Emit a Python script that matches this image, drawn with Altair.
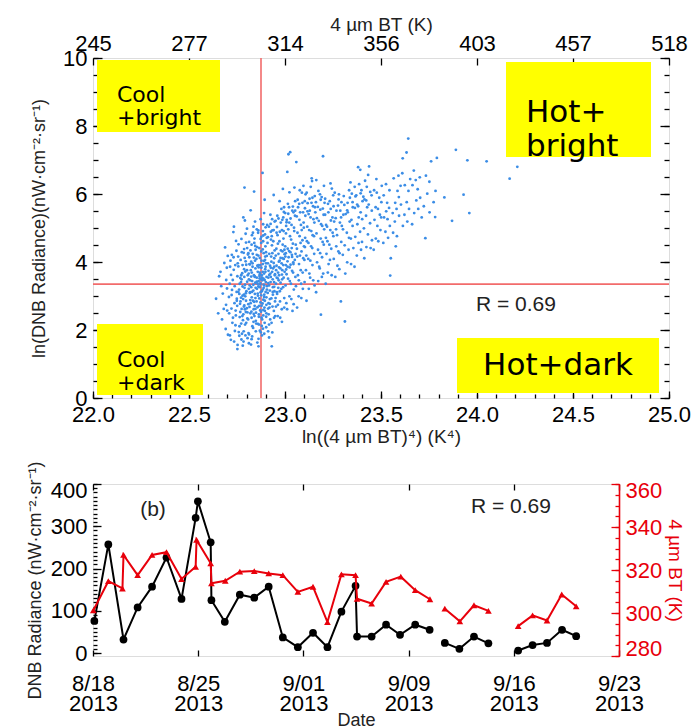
import altair as alt
import pandas as pd

# ---------------- panel (a): DNB radiance vs 4 um brightness temperature ----------------
# (ln(BT^4), ln(DNB radiance)) pairs
scatter_pts = [
    (22.641,2.92),(22.657,3.58),(22.672,2.31),(22.684,3.97),(22.693,2.74),(22.698,3.22),(22.703,1.86),(22.688,4.43),
    (22.676,3.07),(22.699,2.57),(22.664,3.71),(22.691,2.03),(22.702,4.18),(22.668,3.29),(22.697,3.83),(22.681,2.62),
    (22.694,3.47),(22.652,2.49),
    (22.713,1.84),(22.726,2.21),(22.708,2.97),(22.731,4.88),(22.719,3.62),(22.744,2.43),(22.735,1.66),(22.712,3.36),
    (22.741,3.91),(22.723,4.21),(22.737,2.79),(22.748,3.12),(22.716,4.04),(22.739,1.97),(22.728,3.47),(22.721,2.63),
    (22.747,4.33),(22.742,2.14),(22.709,2.49),(22.733,3.77),(22.751,2.71),(22.724,3.18),(22.745,4.62),(22.729,2.36),
    (22.752,3.58),(22.718,1.71),(22.738,3.29),(22.714,3.86),(22.749,2.92),(22.732,4.14),(22.753,1.56),(22.743,2.57),
    (22.722,3.03),(22.734,5.04),(22.754,3.96),
    (22.752,1.44),(22.763,2.11),(22.771,3.41),(22.784,1.66),(22.791,5.22),(22.789,6.19),(22.758,4.52),(22.774,2.62),
    (22.786,3.04),(22.793,3.72),(22.761,3.19),(22.769,4.06),(22.781,2.29),(22.797,2.86),(22.803,4.41),(22.766,2.77),
    (22.776,1.89),(22.788,3.56),(22.795,4.83),(22.799,3.14),(22.757,3.87),(22.773,4.68),(22.783,2.46),(22.792,3.33),
    (22.801,2.64),(22.764,2.38),(22.779,3.01),(22.785,4.27),(22.794,1.84),(22.798,3.92),(22.767,3.53),(22.772,2.19),
    (22.787,3.79),(22.796,2.53),(22.802,4.98),(22.759,1.94),(22.777,3.67),(22.782,2.91),(22.790,4.12),(22.804,2.34),
    (22.762,3.06),(22.775,4.29),(22.789,3.24),(22.793,2.99),(22.806,3.61),(22.768,2.84),(22.780,1.54),(22.797,4.57),
    (22.805,1.76),(22.756,4.16),(22.783,5.31),(22.792,2.16),(22.807,4.22),(22.774,3.49),(22.786,2.69),
    (22.812,1.61),(22.823,1.57),(22.834,2.06),(22.841,2.41),(22.809,2.76),(22.818,3.11),(22.829,3.44),(22.846,3.81),
    (22.814,4.14),(22.826,4.51),(22.833,4.86),(22.844,5.19),(22.821,5.52),(22.839,6.07),(22.816,3.31),(22.825,2.54),
    (22.831,3.96),(22.843,3.06),(22.852,2.84),(22.811,3.66),(22.824,4.01),(22.836,2.24),(22.847,4.36),(22.853,3.54),
    (22.808,2.31),(22.819,3.46),(22.835,3.16),(22.842,2.71),(22.851,4.09),(22.813,4.59),(22.827,2.96),(22.832,4.24),
    (22.845,3.39),(22.854,3.21),(22.810,1.91),(22.822,3.76),(22.837,2.61),(22.841,4.69),(22.849,2.51),(22.815,3.94),
    (22.828,4.79),(22.838,3.61),(22.848,1.96),(22.856,3.89),(22.817,3.09),(22.830,2.11),(22.840,4.56),(22.843,3.56),
    (22.855,4.44),(22.819,2.49),(22.824,3.26),(22.833,2.86),(22.846,2.94),(22.857,3.36),(22.827,3.69),(22.844,4.04),
    (22.850,2.19),(22.820,4.34),(22.836,5.04),(22.853,4.96),(22.812,3.49),(22.847,3.24),(22.858,3.71),(22.829,1.81),
    (22.821,2.79),
    (22.862,1.52),(22.874,1.93),(22.881,2.31),(22.893,2.66),(22.859,3.01),(22.871,3.34),(22.884,3.71),(22.896,4.06),
    (22.866,4.41),(22.877,4.74),(22.886,5.11),(22.891,5.44),(22.894,5.83),(22.883,6.62),(22.864,2.46),(22.872,2.81),
    (22.879,3.14),(22.888,3.51),(22.899,3.86),(22.861,4.19),(22.876,4.56),(22.885,4.91),(22.903,2.96),(22.867,3.59),
    (22.873,3.11),(22.887,2.59),(22.892,3.31),(22.901,4.29),(22.863,3.84),(22.878,4.04),(22.882,3.46),(22.895,2.86),
    (22.904,3.56),(22.865,2.16),(22.869,3.64),(22.889,4.26),(22.897,3.79),(22.902,2.39),(22.868,3.26),(22.875,2.54),
    (22.884,3.94),(22.898,4.46),(22.906,3.19),(22.860,4.86),(22.871,3.91),(22.887,2.89),(22.892,3.04),(22.905,4.71),
    (22.866,2.71),(22.876,4.31),(22.881,3.54),(22.894,2.21),(22.900,3.41),(22.863,3.44),(22.878,2.36),(22.886,4.61),
    (22.897,4.16),(22.907,5.09),(22.873,5.26),(22.880,1.84),(22.891,3.66),(22.903,2.74),(22.869,3.69),(22.874,3.49),
    (22.889,3.24),(22.896,4.81),(22.901,3.96),(22.862,1.74),(22.885,2.04),
    (22.912,1.96),(22.923,2.31),(22.931,1.52),(22.934,1.93),(22.942,2.56),(22.914,2.79),(22.921,3.16),(22.936,3.49),
    (22.944,3.86),(22.952,4.19),(22.909,4.56),(22.926,4.89),(22.933,5.26),(22.941,5.97),(22.917,3.31),(22.924,3.66),
    (22.929,4.01),(22.946,4.34),(22.951,2.94),(22.911,3.96),(22.919,2.66),(22.937,3.04),(22.943,3.41),(22.954,3.76),
    (22.915,2.46),(22.928,4.16),(22.932,4.49),(22.948,2.84),(22.956,4.86),(22.913,3.54),(22.922,3.89),(22.935,2.69),
    (22.939,4.61),(22.953,3.36),(22.918,4.24),(22.925,3.41),(22.938,3.81),(22.945,3.14),(22.949,2.41),(22.910,3.09),
    (22.927,4.66),(22.930,2.21),(22.947,3.61),(22.955,4.39),(22.916,5.04),(22.921,2.91),(22.934,4.26),(22.941,4.94),
    (22.957,3.54),(22.924,5.39),(22.937,3.26),(22.943,2.36),(22.951,5.21),(22.914,3.74),(22.931,4.76),(22.958,3.11),
    (22.926,3.56),(22.944,4.11),(22.917,2.16),(22.953,2.69),
    (22.962,2.41),(22.974,2.84),(22.981,3.21),(22.993,3.54),(23.004,3.91),(22.966,4.24),(22.971,4.61),(22.984,4.94),
    (22.991,5.31),(22.989,6.15),(22.959,3.06),(22.977,3.39),(22.986,3.76),(22.994,4.09),(23.001,4.46),(22.964,3.69),
    (22.972,4.04),(22.983,2.61),(22.996,2.94),(23.003,3.31),(22.961,4.79),(22.978,5.16),(22.987,4.31),(22.992,4.69),
    (23.006,5.06),(22.967,3.46),(22.973,3.14),(22.982,3.96),(22.998,3.71),(23.002,4.16),(22.963,2.74),(22.976,3.81),
    (22.988,4.51),(22.995,5.61),(23.007,2.79),(22.968,4.01),(22.975,2.36),(22.985,3.49),(22.997,4.36),(23.005,4.84),
    (22.960,5.36),(22.979,4.34),(22.981,5.56),(22.990,3.26),(23.008,3.64),(22.969,3.61),(22.984,2.24),(22.993,4.91),
    (23.001,5.44),(22.965,3.24),(22.987,4.11),(23.004,4.26),(22.972,5.79),(22.996,2.66),(22.963,4.54),
    (23.012,6.65),(23.018,7.17),(23.027,7.23),(23.011,2.61),(23.023,2.99),(23.031,3.36),(23.042,3.69),(23.051,4.06),
    (23.014,4.39),(23.026,4.76),(23.034,5.09),(23.044,5.46),(23.053,5.79),(23.016,3.51),(23.024,3.84),(23.036,4.21),
    (23.041,4.54),(23.048,4.91),(23.009,5.24),(23.021,5.61),(23.033,2.91),(23.046,3.19),(23.054,3.56),(23.017,4.96),
    (23.028,4.29),(23.032,4.66),(23.043,3.99),(23.056,4.51),(23.013,3.86),(23.022,5.16),(23.037,3.74),(23.047,5.01),
    (23.052,5.36),(23.019,4.14),(23.025,3.44),(23.038,5.51),(23.045,2.76),(23.057,3.29),(23.023,6.05),(23.035,4.41),
    (23.049,6.19),(23.055,4.24),(23.015,5.71),(23.039,2.56),(23.044,3.94),
    (23.059,6.94),(23.063,2.66),(23.071,2.99),(23.084,3.36),(23.092,3.69),(23.101,4.06),(23.062,4.39),(23.076,4.76),
    (23.083,5.09),(23.094,5.46),(23.103,5.79),(23.067,3.61),(23.073,3.94),(23.086,4.31),(23.091,4.64),(23.098,5.01),
    (23.061,5.34),(23.074,5.71),(23.088,6.04),(23.095,4.11),(23.104,4.44),(23.065,4.86),(23.078,4.19),(23.082,3.76),
    (23.097,5.16),(23.102,3.41),(23.068,5.61),(23.072,3.46),(23.087,4.94),(23.093,3.21),(23.106,5.36),(23.077,6.11),
    (23.081,4.56),(23.096,6.24),(23.105,4.71),(23.064,4.16),(23.085,2.94),(23.099,4.46),(23.107,5.99),(23.075,5.24),
    (23.112,2.86),(23.124,3.21),(23.131,3.54),(23.143,3.91),(23.152,4.24),(23.114,4.61),(23.126,4.94),(23.133,5.31),
    (23.146,5.64),(23.141,6.38),(23.139,6.46),(23.109,3.76),(23.121,4.09),(23.136,4.46),(23.144,4.79),(23.153,5.16),
    (23.117,5.49),(23.128,5.86),(23.134,6.21),(23.111,4.19),(23.122,4.56),(23.137,4.91),(23.148,5.26),(23.156,5.61),
    (23.116,5.04),(23.127,3.66),(23.132,4.04),(23.142,4.41),(23.154,3.31),(23.123,5.41),(23.138,5.74),(23.151,4.76),
    (23.113,6.04),(23.147,3.46),(23.155,5.94),
    (23.187,2.45),(23.198,7.11),(23.162,3.11),(23.173,3.44),(23.181,3.81),(23.193,4.14),(23.202,4.51),(23.164,4.84),
    (23.176,5.21),(23.184,5.54),(23.191,5.91),(23.203,6.24),(23.167,3.99),(23.172,4.36),(23.186,4.69),(23.194,5.06),
    (23.201,5.39),(23.161,5.76),(23.174,6.09),(23.183,4.26),(23.196,4.59),(23.204,4.96),(23.166,5.29),(23.178,3.86),
    (23.188,5.11),(23.192,3.56),(23.206,5.74),(23.163,6.41),(23.182,5.99),(23.199,3.66),
    (23.212,3.36),(23.223,3.69),(23.234,4.06),(23.241,4.39),(23.252,4.76),(23.214,5.09),(23.226,5.46),(23.233,5.79),
    (23.244,6.16),(23.216,4.24),(23.221,4.61),(23.236,4.94),(23.247,5.31),(23.253,5.64),(23.209,5.86),(23.227,3.94),
    (23.231,4.51),(23.243,3.61),(23.256,5.19),(23.219,5.04),(23.237,6.31),(23.248,4.86),(23.254,4.09),(23.213,4.71),
    (23.238,5.56),
    (23.291,2.84),(23.262,3.56),(23.273,3.89),(23.284,4.26),(23.293,4.59),(23.302,4.96),(23.264,5.29),(23.276,5.66),
    (23.281,5.99),(23.296,5.06),(23.304,5.39),(23.267,4.46),(23.271,4.79),(23.286,5.16),(23.294,5.76),(23.301,4.21),
    (23.259,6.04),(23.278,4.31),(23.283,3.79),(23.306,5.94),(23.266,4.96),(23.288,5.51),
    (23.312,2.25),(23.314,3.66),(23.324,3.99),(23.331,4.36),(23.343,4.69),(23.352,5.06),(23.316,5.41),(23.326,5.74),
    (23.334,6.11),(23.346,5.24),(23.353,5.61),(23.311,4.49),(23.322,4.86),(23.337,5.19),(23.341,6.34),(23.356,4.41),
    (23.327,5.46),(23.333,4.71),(23.344,3.94),(23.348,6.01),
    (23.381,6.79),(23.392,6.71),(23.362,3.86),(23.374,4.19),(23.383,4.56),(23.391,4.89),(23.402,5.26),(23.364,5.59),
    (23.371,5.96),(23.386,6.29),(23.394,5.46),(23.404,5.79),(23.366,4.74),(23.377,5.11),(23.384,5.31),(23.396,4.36),
    (23.401,4.59),(23.363,6.21),(23.376,5.69),(23.398,6.11),
    (23.438,6.81),(23.413,4.11),(23.424,4.44),(23.432,4.81),(23.443,5.14),(23.452,5.51),(23.414,5.84),(23.426,6.21),
    (23.433,6.56),(23.411,4.99),(23.422,5.36),(23.436,5.69),(23.444,6.06),(23.453,4.64),(23.417,6.39),(23.428,5.61),
    (23.446,4.41),(23.451,5.96),
    (23.462,4.36),(23.473,4.69),(23.481,5.06),(23.494,5.39),(23.502,5.76),(23.464,6.11),(23.476,6.44),(23.484,5.56),
    (23.491,5.89),(23.504,6.24),(23.466,5.24),(23.472,5.61),(23.486,4.61),(23.497,4.94),(23.501,5.31),(23.478,6.04),
    (23.548,3.60),(23.551,4.11),(23.512,4.56),(23.523,4.89),(23.534,5.26),(23.542,5.59),(23.514,5.96),(23.526,6.29),
    (23.532,5.74),(23.544,6.11),(23.516,5.31),(23.527,5.49),(23.537,4.71),(23.546,5.06),
    (23.563,4.86),(23.572,5.19),(23.581,5.56),(23.593,5.91),(23.602,6.24),(23.566,6.46),(23.574,5.74),(23.586,6.09),
    (23.594,5.36),(23.604,5.69),(23.561,5.44),(23.583,4.76),(23.591,6.54),(23.577,4.46),
    (23.642,7.63),(23.633,7.22),(23.613,7.05),(23.614,5.06),(23.622,5.39),(23.634,5.76),(23.643,6.09),(23.652,6.44),
    (23.624,6.26),(23.637,5.19),(23.646,5.56),(23.611,6.61),
    (23.662,5.11),(23.673,5.44),(23.684,5.81),(23.691,6.14),(23.702,6.49),(23.664,6.26),(23.681,6.41),(23.694,5.56),
    (23.704,5.89),(23.671,6.69),
    (23.731,4.70),(23.712,5.31),(23.723,5.64),(23.741,6.01),(23.752,6.36),(23.761,6.96),(23.791,7.06),(23.782,5.32),
    (23.774,5.76),(23.784,6.09),(23.734,6.54),(23.753,5.46),
    (23.870,5.21),(23.890,7.30),(23.930,5.98),(23.950,6.99),(23.960,5.44),(24.050,6.96),(23.830,5.90),(24.170,6.45),
    (24.210,6.80),
    # dense core around the thresholds and along the main ridge
    (22.853,3.42),(22.861,3.28),(22.868,3.52),(22.872,3.38),(22.879,3.61),(22.884,3.19),(22.889,3.33),(22.894,3.47),
    (22.858,3.07),(22.866,2.93),(22.876,3.02),(22.883,2.78),(22.891,2.97),(22.899,3.12),(22.906,3.29),(22.842,3.58),
    (22.835,3.33),(22.828,3.12),(22.819,2.88),(22.811,3.21),(22.803,3.42),(22.796,3.08),(22.788,2.72),(22.779,3.28),
    (22.771,2.95),(22.846,2.62),(22.839,2.83),(22.857,2.67),(22.864,2.39),(22.871,2.58),(22.878,2.71),(22.887,2.43),
    (22.895,2.56),(22.903,2.49),(22.912,2.63),(22.921,2.77),(22.929,2.93),(22.936,3.12),(22.944,3.27),(22.913,3.38),
    (22.918,3.62),(22.926,3.83),(22.933,3.71),(22.941,3.97),(22.948,3.64),(22.956,3.89),(22.962,3.52),(22.969,3.84),
    (22.977,4.12),(22.984,3.63),(22.991,3.91),(22.998,4.23),(23.006,3.78),(23.013,4.02),(23.021,4.32),(23.029,3.92),
    (23.037,4.15),(22.862,3.91),(22.869,4.12),(22.877,3.83),(22.884,4.37),(22.891,4.03),(22.898,3.71),(22.905,4.18),
    (22.853,4.21),(22.845,4.47),(22.838,4.13),(22.831,3.86),(22.824,3.57),(22.817,3.93),(22.809,4.26),(22.802,3.76),
    (22.795,4.02),(22.787,4.38),(22.779,3.91),(22.772,3.61),(22.764,3.36),(22.757,3.12),(22.749,2.86),(22.767,2.53),
    (22.778,2.41),(22.791,2.61),(22.804,2.52),(22.815,2.68),(22.826,2.36),(22.837,2.47),(22.848,2.27),(22.859,2.18),
    (22.869,1.98),(22.879,2.12),(22.892,1.89),(22.902,2.08),(22.917,1.78),(22.798,2.21),(22.785,1.96),(22.773,1.72),
    (22.762,1.83),(22.813,1.87),(22.826,1.73),(22.856,1.63),(22.873,4.68),(22.861,4.93),(22.887,4.78),(22.899,5.02),
    (22.911,4.73),(22.925,5.12),(22.934,4.93),(22.946,5.19),(22.958,5.03),(22.966,5.28),(22.973,4.89),(22.986,5.24),
    (22.994,5.47),(23.008,5.17),(23.017,5.42),(23.029,5.28),(23.041,5.63),(23.053,5.51),(23.066,5.83),(23.079,5.46),
    (23.091,5.74),(23.104,5.58),(23.118,5.73),(23.129,5.51),(23.143,5.89),(23.158,5.46),(23.171,5.62),(23.186,5.83),
    (23.197,5.57),(23.209,5.39),(23.224,5.71),(23.239,5.22),(23.251,5.96),(23.268,5.51),(23.279,5.84),(23.292,5.31),
    (23.309,5.68),(23.324,5.52),(23.338,5.89),(23.352,5.76),(23.367,5.93),(23.381,5.64),(23.394,6.02),(23.408,5.92),
    (23.423,5.81),
]
split_bt4 = 22.875        # ln(BT^4) threshold (vertical red line)
split_dnb = 3.35          # ln(DNB) threshold (horizontal red line)
bt4_ticks = [22.0, 22.5, 23.0, 23.5, 24.0, 24.5, 25.0]
dnb_ln_ticks = [0, 2, 4, 6, 8, 10]
quadrant_text = [["Cool", "+bright"], ["Cool", "+dark"], ["Hot+", "bright"], ["Hot+dark"]]
r_text = "R = 0.69"

# ---------------- panel (b): daily time series ----------------
# days after 18 Aug 2013
dnb_day = [0.09, 1.02, 2.03, 2.97, 3.93, 4.89, 5.89, 6.83, 6.98, 7.83, 7.88, 8.77, 9.77, 10.73, 11.69,
           12.63, 13.63, 14.64, 15.60, 16.53, 17.47, 17.57, 18.54, 19.50, 20.43, 21.44, 22.40,
           23.41, 24.38, 25.35, 26.31,
           28.29, 29.25, 30.21, 31.21, 32.15]
dnb_rad = [76, 257, 32, 108, 157, 226, 128, 320, 359, 262, 125, 74, 138, 131, 157,
           37, 14, 48, 14, 98, 159, 39, 39, 67, 43, 67, 55,
           24, 10, 39, 23,
           6, 19, 24, 55, 40]
dnb_run = [0] * 27 + [1] * 4 + [2] * 5

bt_day = [0.02, 1.02, 1.96, 2.03, 2.97, 3.93, 4.89, 5.89, 6.83, 6.89, 7.83, 7.88, 8.80, 9.77, 10.73,
          11.69, 12.63, 13.63, 14.64, 15.60, 16.53, 17.47, 17.57, 18.54, 19.50, 20.48, 21.44, 22.42,
          23.41, 24.41, 25.35, 26.31,
          28.29, 29.25, 30.21, 31.19, 32.15]
bt_val = [301.2, 314.8, 311.4, 327.0, 317.6, 327.0, 328.3, 315.8, 321.5, 334.0, 323.1, 313.8, 315.0,
          319.2, 319.5, 318.4, 317.6, 309.8, 312.2, 295.8, 318.0, 317.6, 306.6, 304.4, 314.5, 316.9,
          310.6, 306.4,
          302.0, 296.1, 303.6, 301.0,
          293.9, 298.9, 296.5, 308.6, 303.1]
bt_run = [0] * 28 + [1] * 4 + [2] * 5

date_ticks = ["8/18", "8/25", "9/01", "9/09", "9/16", "9/23"]
date_tick_days = [0, 7, 14, 21, 28, 35]

# ---------------- styling ----------------
LABEL_FONT = "Liberation Sans"
TITLE_FONT = "Liberation Sans"
BOX_FONT = "DejaVu Sans"
BLUE = "#3b8de6"
RED = "#e8000b"
YELLOW = "#ffff00"
LBL = 22      # tick label size
TTL = 18      # axis title size

W1, H1 = 576, 340
W2, H2 = 526, 172


def frame_ticks(x_axis, y_axis, xscale, yscale, x0, y0):
    """Invisible one-point layer that only carries extra axes (inward tick marks)."""
    return alt.Chart(alt.Data(values=[{"a": x0, "b": y0}])).mark_point(opacity=0).encode(
        x=alt.X("a:Q", scale=xscale, axis=x_axis),
        y=alt.Y("b:Q", scale=yscale, axis=y_axis),
    )


def tick_axis(orient, values, size, color="black", width=1.3):
    return alt.Axis(orient=orient, values=values, tickSize=size, offset=-size, labels=False,
                    domain=False, grid=False, title=None, ticks=True, tickColor=color,
                    tickWidth=width)


def note(text, x, y, size, font, align="left", color="#222", line_height=None):
    kw = dict(text=text, align=align, baseline="middle", font=font, fontSize=size, color=color)
    if line_height:
        kw["lineHeight"] = line_height
    return alt.Chart(alt.Data(values=[{}])).mark_text(**kw).encode(x=alt.value(x), y=alt.value(y))


# ---- panel (a) ----
sc = pd.DataFrame(scatter_pts, columns=["bt4", "lndnb"])
xs1 = alt.Scale(domain=[22, 25], nice=False, zero=False)
ys1 = alt.Scale(domain=[0, 10], nice=False, zero=False)

minor_x1 = [round(22 + 0.1 * i, 1) for i in range(31)]
minor_y1 = [0.5 * i for i in range(21)]
top_title = "4 \u00b5m BT (K)"

points = alt.Chart(sc).mark_circle(size=8, color=BLUE, opacity=1).encode(
    x=alt.X("bt4:Q", scale=xs1, axis=alt.Axis(
        orient="bottom", values=bt4_ticks, format=".1f", ticks=False, domain=False, grid=False,
        labelFlush=False, labelFont=LABEL_FONT, labelFontSize=LBL, labelColor="black", labelPadding=6,
        title="ln((4 \u00b5m BT)\u2074) (K\u2074)", titleFont=TITLE_FONT, titleFontSize=TTL + 1,
        titleFontWeight="normal", titleColor="#222", titlePadding=2)),
    y=alt.Y("lndnb:Q", scale=ys1, axis=alt.Axis(
        orient="left", values=dnb_ln_ticks, ticks=False, domain=False, grid=False,
        labelFont=LABEL_FONT, labelFontSize=LBL, labelColor="black", labelPadding=6,
        title="ln(DNB Radiance)(nW\u00b7cm\u207b\u00b2\u00b7sr\u207b\u00b9)", titleFont=TITLE_FONT,
        titleFontSize=TTL, titleFontWeight="normal", titleColor="#222", titlePadding=14)),
)

top_axis = frame_ticks(
    alt.Axis(orient="top", values=bt4_ticks, ticks=False, domain=False, grid=False, labelFlush=False,
             labelExpr="round(exp(datum.value / 4)) + ''", labelFont=LABEL_FONT, labelFontSize=LBL,
             labelColor="black", labelPadding=3, title=top_title, titleFont=TITLE_FONT,
             titleFontSize=TTL + 1, titleFontWeight="normal", titleColor="#222", titlePadding=-2),
    None, xs1, ys1, 23, 5)

tick_layers_a = [
    frame_ticks(tick_axis("bottom", bt4_ticks, 7), tick_axis("left", dnb_ln_ticks, 9), xs1, ys1, 23, 5),
    frame_ticks(tick_axis("bottom", minor_x1, 4), tick_axis("left", minor_y1, 5), xs1, ys1, 23, 5),
    frame_ticks(tick_axis("top", bt4_ticks, 7), tick_axis("right", dnb_ln_ticks, 9), xs1, ys1, 23, 5),
    frame_ticks(None, tick_axis("right", minor_y1, 5), xs1, ys1, 23, 5),
]

vline = alt.Chart(alt.Data(values=[{}])).mark_rule(color="#f26b6b", strokeWidth=1.6).encode(
    x=alt.X(datum=split_bt4, scale=xs1, axis=None))
hline = alt.Chart(alt.Data(values=[{}])).mark_rule(color="#f26b6b", strokeWidth=1.6).encode(
    y=alt.Y(datum=split_dnb, scale=ys1, axis=None))

# quadrant label boxes: (x, x2, y, y2) in pixels of the plot area
boxes = [(4, 127, 2, 74), (4, 110, 266, 337), (413, 558, 4, 99), (364, 566, 280, 335)]
box_layers = [
    alt.Chart(alt.Data(values=[{}])).mark_rect(color=YELLOW).encode(
        x=alt.value(b[0]), x2=alt.value(b[1]), y=alt.value(b[2]), y2=alt.value(b[3]))
    for b in boxes
]
box_text = [
    note(quadrant_text[0], 24, 37, 22, BOX_FONT, line_height=23, color="black"),
    note(quadrant_text[1], 24, 302, 22, BOX_FONT, line_height=23, color="black"),
    note(quadrant_text[2], 433, 55, 31, BOX_FONT, line_height=34, color="black"),
    note(quadrant_text[3], 465, 308, 31, BOX_FONT, align="center", color="black"),
]
r_a = note(r_text, 383, 247, 21, TITLE_FONT)

panel_a = alt.layer(
    *box_layers, vline, hline, points, *box_text, r_a, top_axis, *tick_layers_a
).resolve_axis(x="independent", y="independent").properties(width=W1, height=H1)

# ---- panel (b) ----
xs2 = alt.Scale(domain=[0, 35], nice=False, zero=False)
ys_l = alt.Scale(domain=[-7, 400], nice=False, zero=False)
ys_r = alt.Scale(domain=[280, 360], nice=False, zero=False)

dnb = pd.DataFrame({"day": dnb_day, "rad": dnb_rad, "run": dnb_run, "k": range(len(dnb_day))})
bt = pd.DataFrame({"day": bt_day, "bt": bt_val, "run": bt_run, "k": range(len(bt_day))})

label_expr = "[" + ",".join("['%s','2013']" % d for d in date_ticks) + "][round(datum.value / 7)]"

dnb_line = alt.Chart(dnb).mark_line(color="black", strokeWidth=2).encode(
    x=alt.X("day:Q", scale=xs2, axis=alt.Axis(
        orient="bottom", values=date_tick_days, labelExpr=label_expr, ticks=False, domain=False,
        grid=False, labelFlush=False, labelFont=LABEL_FONT, labelFontSize=LBL, labelColor="black",
        labelLineHeight=20, labelPadding=17, title="Date", titleFont=TITLE_FONT, titleFontSize=TTL,
        titleFontWeight="normal", titleColor="#222", titlePadding=-3)),
    y=alt.Y("rad:Q", scale=ys_l, axis=alt.Axis(
        orient="left", values=[0, 100, 200, 300, 400], ticks=False, domain=False, grid=False,
        labelFont=LABEL_FONT, labelFontSize=LBL, labelColor="black", labelPadding=6, labelFlush=True,
        labelFlushOffset=4, title="DNB Radiance (nW\u00b7cm\u207b\u00b2\u00b7sr\u207b\u00b9)",
        titleFont=TITLE_FONT, titleFontSize=TTL, titleFontWeight="normal", titleColor="#222",
        titlePadding=6, titleY=H2 / 2 + 10)),
    detail="run:N",
    order="k:Q",
)
dnb_pts = alt.Chart(dnb).mark_circle(size=60, color="black", opacity=1).encode(
    x=alt.X("day:Q", scale=xs2, axis=None), y=alt.Y("rad:Q", scale=ys_l, axis=None))

left_ticks = [
    frame_ticks(tick_axis("bottom", date_tick_days, 6), tick_axis("left", [0, 100, 200, 300, 400], 8),
                xs2, ys_l, 10, 100),
    frame_ticks(tick_axis("top", date_tick_days, 6), tick_axis("left", list(range(0, 401, 10)), 4),
                xs2, ys_l, 10, 100),
]
b_label = note("(b)", 60, 26, 21, TITLE_FONT, align="center")
r_b = note(r_text, 378, 23, 21, TITLE_FONT)

left_group = alt.layer(dnb_line, dnb_pts, *left_ticks, b_label, r_b).resolve_axis(
    x="independent", y="independent")

bt_line = alt.Chart(bt).mark_line(color=RED, strokeWidth=2).encode(
    x=alt.X("day:Q", scale=xs2, axis=None),
    y=alt.Y("bt:Q", scale=ys_r, axis=alt.Axis(
        orient="right", values=[280, 300, 320, 340, 360], ticks=False, domain=True, domainColor=RED,
        domainWidth=1.6, grid=False, labelFont=LABEL_FONT, labelFontSize=LBL, labelColor=RED,
        labelPadding=6, labelFlush=True, labelFlushOffset=4, title=top_title, titleFont=TITLE_FONT,
        titleFontSize=TTL + 1, titleFontWeight="normal", titleColor=RED, titlePadding=3)),
    detail="run:N",
    order="k:Q",
)
bt_pts = alt.Chart(bt).mark_point(shape="triangle-up", size=45, color=RED, filled=True, opacity=1).encode(
    x=alt.X("day:Q", scale=xs2, axis=None), y=alt.Y("bt:Q", scale=ys_r, axis=None))
right_ticks = [
    frame_ticks(None, tick_axis("right", [280, 300, 320, 340, 360], 8, RED), xs2, ys_r, 10, 320),
    frame_ticks(None, tick_axis("right", list(range(280, 361, 5)), 4, RED), xs2, ys_r, 10, 320),
]
right_group = alt.layer(bt_line, bt_pts, *right_ticks).resolve_axis(x="independent", y="independent")

panel_b = alt.layer(left_group, right_group).resolve_scale(y="independent").resolve_axis(
    x="independent", y="independent").properties(width=W2, height=H2)

chart = alt.vconcat(panel_a, panel_b, spacing=13).properties(
    padding={"left": 25, "top": 14, "right": 0, "bottom": 0}
).configure_view(stroke="black", strokeWidth=1.5).configure(background="white")

chart.save("out.html", embed_options={"renderer": "svg", "actions": False})
